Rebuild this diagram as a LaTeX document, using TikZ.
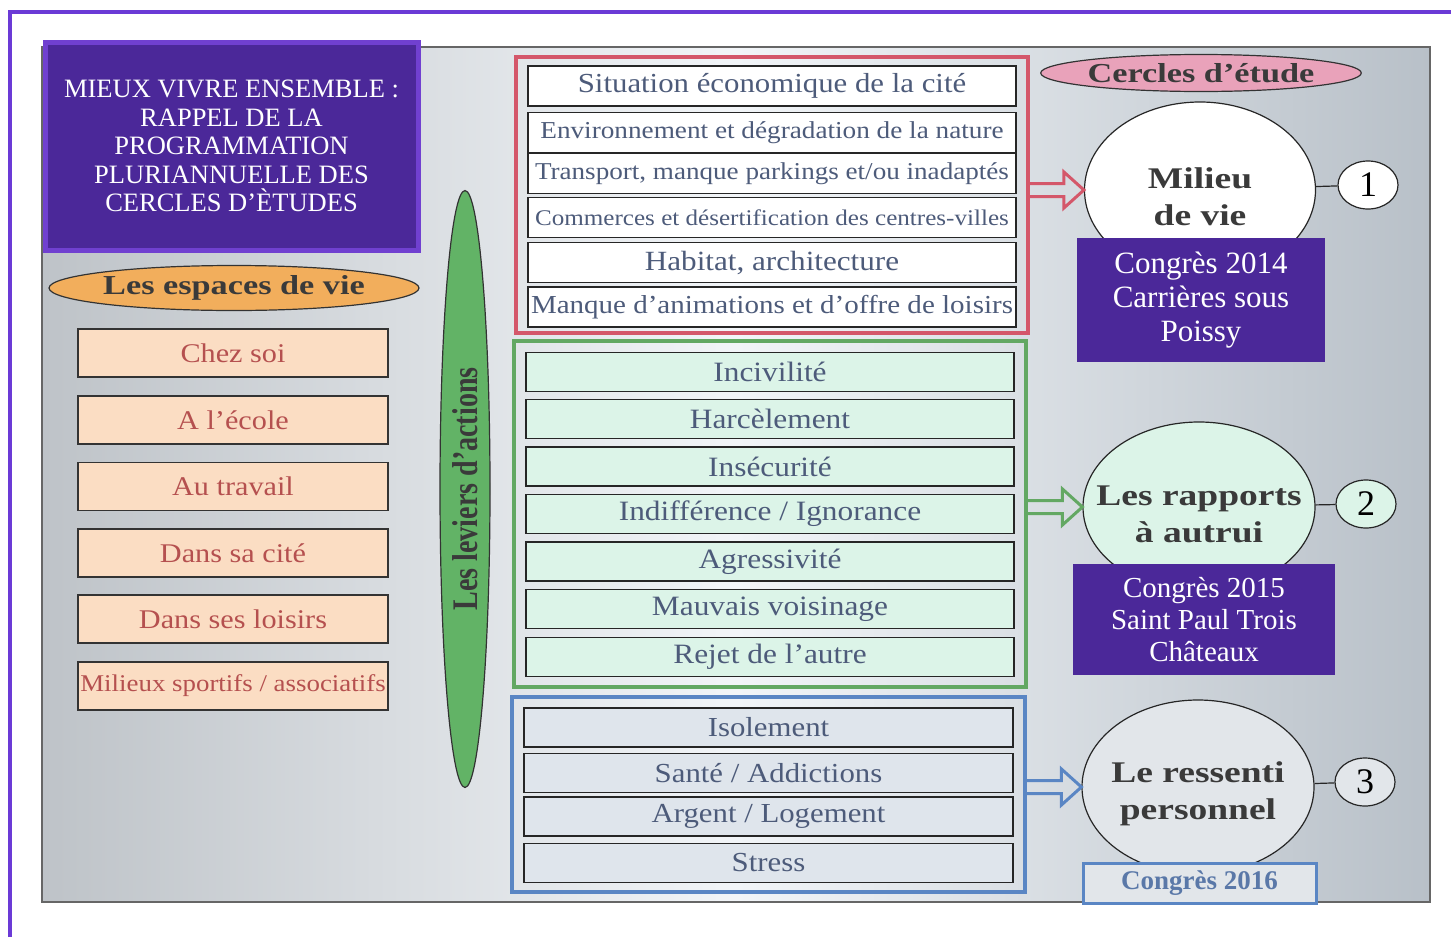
\documentclass[tikz,border=0pt]{standalone}
\usepackage{fontspec}
\setmainfont{Liberation Serif}
\newfontfamily\boxfont[FakeStretch=1.12]{Liberation Serif}
\newfontfamily\headfont[FakeStretch=1.25]{Liberation Serif}
\newfontfamily\levfont[FakeStretch=0.78]{Liberation Serif}
\usetikzlibrary{shapes.geometric,calc}
\definecolor{violet}{HTML}{6B3AD6}
\definecolor{violetfond}{HTML}{4B2899}
\definecolor{violetbord}{HTML}{7040D0}
\definecolor{panelg}{HTML}{BEC3C8}
\definecolor{panelw}{HTML}{F2F5F8}
\definecolor{panelr}{HTML}{B8C0C8}
\definecolor{peche}{HTML}{FBDDC3}
\definecolor{pechetexte}{HTML}{B5504F}
\definecolor{orange}{HTML}{F2AE5C}
\definecolor{vertell}{HTML}{62B366}
\definecolor{rouge}{HTML}{D4576A}
\definecolor{vert}{HTML}{63A863}
\definecolor{bleu}{HTML}{5A86C4}
\definecolor{menthe}{HTML}{DCF4E8}
\definecolor{bleugris}{HTML}{DFE5EC}
\definecolor{gris}{HTML}{E2E6EA}
\definecolor{levtexte}{HTML}{4D5B7A}
\definecolor{tete}{HTML}{3A3A3A}
\definecolor{rose}{HTML}{E9A2BA}
\definecolor{congres}{HTML}{5A78A8}
\tikzset{every node/.style={inner sep=0pt},
  lieu/.style={draw=black!80, line width=1.2pt, fill=peche, text=pechetexte, minimum width=310pt, minimum height=48pt, font=\boxfont},
  levier/.style={draw=black!85, line width=1.2pt, minimum width=488pt, minimum height=40pt, text=levtexte, font=\boxfont},
  groupe/.style={line width=3.8pt, minimum width=512pt},
  cercle/.style={ellipse, draw=black!85, line width=1.2pt, minimum width=232pt, minimum height=174pt},
  cercletexte/.style={text=tete, align=center, font=\headfont\bfseries\fontsize{30}{37}\selectfont},
  numero/.style={ellipse, draw=black!85, line width=1.2pt, minimum width=60pt, minimum height=48pt, font=\fontsize{36}{36}\selectfont},
  congresbox/.style={fill=violetfond, text=white, align=center},
  pfeil/.style={line width=3pt, to path={let \p1=(\tikztostart), \p2=(\tikztotarget) in
    (\x1,\y2+6.5pt) -- (\x2-20pt,\y2+6.5pt) -- (\x2-20pt,\y2+18pt) -- (\x2,\y2)
    -- (\x2-20pt,\y2-18pt) -- (\x2-20pt,\y2-6.5pt) -- (\x1,\y2-6.5pt)}}}

\begin{document}
\begin{tikzpicture}[x=1pt,y=-1pt]
  \useasboundingbox (0,0) rectangle (1451,937);
  % fond
  \shade[left color=panelg, right color=panelr, middle color=panelw] (42,47) rectangle (1430,902);
  \draw[black!60, line width=1.2pt] (42,47) rectangle (1430,902);
  \draw[violet, line width=4pt] (10,937) -- (10,12) -- (1451,12);
  \node[fill=violetfond, draw=violetbord, line width=5pt, minimum width=373pt, minimum height=208pt,
    text=white, align=center, font=\fontsize{26.5}{28.5}\selectfont] (titre) at (231.5,146)
    {MIEUX VIVRE ENSEMBLE :\\RAPPEL DE LA\\PROGRAMMATION\\PLURIANNUELLE DES\\CERCLES D’ÈTUDES};

  % les espaces de vie
  \node[ellipse, draw=black!80, line width=1.2pt, fill=orange, minimum width=356pt, minimum height=45pt,
    text=tete, font=\headfont\bfseries\fontsize{27.4}{28}\selectfont] (espaces) at (234,288) {Les espaces de vie};
  \foreach \y/\s/\t [count=\i] in {353/27/Chez soi, 420/27/A l’école, 486.5/27/Au travail,
      553/27/Dans sa cité, 619/27/Dans ses loisirs, 686/24/{Milieux sportifs / associatifs}}
    \node[lieu] (lieu\i) at (233,\y) {\fontsize{\s}{\s}\selectfont\t};

  % les leviers
  \node[ellipse, rotate=90, draw=black!80, line width=1.2pt, fill=vertell, minimum width=597pt, minimum height=50pt,
    text=tete, font=\levfont\bfseries\fontsize{36}{36}\selectfont] (leviers) at (465,489) {Les leviers d’actions};

  \node[groupe, draw=rouge, minimum height=276pt] (grouge) at (772,195) {};
  \node[groupe, draw=vert, minimum height=346pt] (gvert) at (770,514) {};
  \node[groupe, draw=bleu, minimum height=195pt, minimum width=513pt] (gbleu) at (768.5,794.5) {};

  \foreach \y/\s/\t [count=\i] in {86/27.5/{Situation économique de la cité},
      132.5/24.3/{Environnement et dégradation de la nature},
      173.5/24.2/{Transport, manque parkings et/ou inadaptés},
      217.5/22.4/{Commerces et désertification des centres-villes},
      262.5/27.8/{Habitat, architecture},
      307/25.9/{Manque d’animations et d’offre de loisirs}}
    \node[levier, fill=white] (mil\i) at (772,\y) {\fontsize{\s}{\s}\selectfont\t};
  \foreach \y/\t [count=\i] in {372/Incivilité, 419/Harcèlement, 466.5/Insécurité,
      514/{Indifférence / Ignorance}, 561.5/Agressivité, 609/Mauvais voisinage, 657/{Rejet de l’autre}}
    \node[levier, fill=menthe, minimum height=39pt] (rap\i) at (770,\y) {\fontsize{28}{28}\selectfont\t};
  \foreach \y/\t [count=\i] in {727.5/Isolement, 773/{Santé / Addictions}, 816.5/{Argent / Logement}, 863/Stress}
    \node[levier, fill=bleugris, minimum height=39pt, minimum width=489pt] (res\i) at (768.5,\y) {\fontsize{27.5}{27.5}\selectfont\t};

  % cercles d'etude
  \node[ellipse, draw=black!80, line width=1.2pt, fill=rose, minimum width=302pt, minimum height=37pt,
    text=tete, font=\headfont\bfseries\fontsize{27.4}{28}\selectfont] (cercles) at (1201,73) {Cercles d’étude};

  \node[cercle, fill=white, minimum height=176pt, minimum width=231pt] (milieu) at (1200,190) {};
  \node[cercle, fill=menthe, minimum height=170pt] (rapports) at (1199,507) {};
  \node[cercle, fill=gris] (ressenti) at (1198,787) {};
  \node[cercletexte] (milieuT) at (1200,197) {Milieu\\de vie};
  \node[cercletexte] (rapportsT) at (1199,514) {Les rapports\\à autrui};
  \node[cercletexte] (ressentiT) at (1198,794) {Le ressenti\\personnel};

  \node[numero, fill=white] (num1) at (1368,185) {1};
  \node[numero, fill=menthe] (num2) at (1366,504) {2};
  \node[numero, fill=gris] (num3) at (1365,782) {3};
  \draw[black!85, line width=1.2pt] (milieu) -- (num1);
  \draw[black!85, line width=1.2pt] (rapports) -- (num2);
  \draw[black!85, line width=1.2pt] (ressenti) -- (num3);

  \draw[pfeil, draw=rouge] (grouge.east) to (milieu.west);
  \draw[pfeil, draw=vert] (gvert.east) to (rapports.west);
  \draw[pfeil, draw=bleu] (gbleu.east) to (ressenti.west);

  \node[congresbox, minimum width=248pt, minimum height=124pt, font=\fontsize{31}{34}\selectfont] (c2014)
    at (1201,300) {Congrès 2014\\Carrières sous\\Poissy};
  \node[congresbox, minimum width=262pt, minimum height=111pt, font=\fontsize{29}{32}\selectfont] (c2015)
    at (1204,619.5) {Congrès 2015\\Saint Paul Trois\\Châteaux};
  \node[fill=gris, draw=bleu, line width=3pt, minimum width=233pt, minimum height=40pt, text=congres,
    font=\bfseries\fontsize{27}{27}\selectfont] (c2016) at (1199.5,883) {Congrès 2016};
\end{tikzpicture}
\end{document}
